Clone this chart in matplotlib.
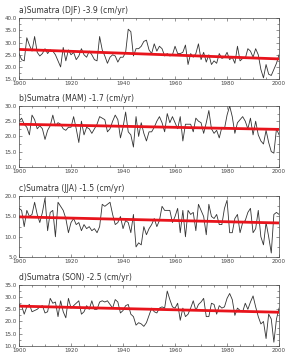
import numpy as np
import matplotlib.pyplot as plt
from matplotlib.ticker import MultipleLocator, FormatStrFormatter

years = np.arange(1900, 2001)

djf = [25.5, 23, 22.5, 32, 29, 26.5, 32.5, 26, 24.5, 25.5,
       27.5, 25.5, 27, 26.5, 25, 22.5, 20, 28, 22.5, 27,
       25, 26, 23, 24.5, 27.5, 25, 24, 26.5, 25, 23,
       22.5, 32.5, 27, 24.5, 21.5, 24, 25, 24.5, 22, 24,
       24, 26, 35.5, 34.5, 24.5, 27.5, 27.5, 28.5, 30.5, 31,
       27, 25.5, 29.5, 26.5, 28.5, 27.5, 24.5, 25.5, 24.5, 25,
       28.5, 25.5, 25.5, 26, 29, 21, 25.5, 24, 25.5, 29.5,
       23, 26, 22, 25, 21, 22.5, 21.5, 25.5, 23.5, 24,
       26, 23, 24, 21.5, 28.5, 22.5, 23.5, 23.5, 27.5, 26.5,
       24, 27.5, 25, 19, 15.5, 21, 17, 16.5, 19, 21.5, 25]

mam = [25, 26, 24, 23, 20.5, 27, 25.5, 22.5, 23.5, 22.5,
       19, 22, 23.5, 27, 23.5, 24.5, 24, 22.5, 22, 23,
       23, 26.5, 22.5, 18, 25, 20.5, 23, 22.5, 21, 22.5,
       24, 26.5, 26, 25.5, 21.5, 22.5, 25, 27, 25.5, 19.5,
       23, 28, 21.5, 20.5, 16.5, 26.5, 20, 24.5, 21, 18.5,
       21.5, 21.5, 23, 25, 26.5, 24.5, 21.5, 27.5, 24.5, 26.5,
       24.5, 22.5, 26.5, 18.5, 24, 24, 24, 21.5, 26, 25,
       24.5, 21, 24.5, 28.5, 22.5, 21, 22, 19.5, 23, 22.5,
       27, 30, 26.5, 21, 24.5, 25.5, 26.5, 25, 22.5, 26,
       20.5, 25, 20.5, 18.5, 17.5, 22, 18, 15, 14.5, 22.5, 20.5]

jja = [17, 16.5, 12.5, 16.5, 15, 15.5, 18.5, 15.5, 13.5, 16,
       19.5, 11.5, 16, 16.5, 10, 18.5, 17.5, 16.5, 14.5, 11,
       13.5, 14.5, 13, 13.5, 11.5, 13, 12, 12.5, 11.5, 12,
       11, 12.5, 18, 17.5, 18, 18.5, 15.5, 13, 13.5, 15,
       12, 14, 13.5, 11, 15.5, 7.5, 8.5, 8, 12.5, 10.5,
       12, 13, 14.5, 12.5, 14, 17.5, 16.5, 16.5, 16.5, 13.5,
       15, 17, 11, 16.5, 10, 16.5, 15.5, 16, 11.5, 18,
       16.5, 15, 10.5, 18, 15, 14.5, 15.5, 13, 13, 17,
       19, 11, 11, 14.5, 15.5, 11, 13.5, 14, 16, 17,
       11, 12, 16.5, 10, 8, 13.5, 10, 6, 15.5, 16, 15.5]

son = [27, 26.5, 23, 26, 27, 24, 24.5, 25, 26, 26.5,
       23.5, 24, 29.5, 27.5, 28, 22, 28.5, 24, 21.5, 29.5,
       25.5, 26.5, 27.5, 28.5, 23, 24, 26.5, 25, 28.5, 25,
       25, 28, 28.5, 28, 28.5, 27, 25.5, 29, 28, 23.5,
       24.5, 26.5, 27, 23, 22, 18.5, 19.5, 19, 18, 19.5,
       22.5, 25.5, 24, 23.5, 25.5, 26, 25.5, 32.5, 29, 26,
       25.5, 27.5, 20.5, 25.5, 22, 23, 25.5, 28.5, 24.5, 27,
       28, 29.5, 22, 22, 27.5, 27, 23, 26.5, 25.5, 26,
       29.5, 31.5, 29, 22.5, 25.5, 24.5, 24, 27.5, 25, 28,
       30.5, 26, 22, 19, 20, 13, 23, 21, 11.5, 21, 25.5]

titles = ["a)Sumatra (DJF) -3.9 (cm/yr)", "b)Sumatra (MAM) -1.7 (cm/yr)",
          "c)Sumatra (JJA) -1.5 (cm/yr)", "d)Sumatra (SON) -2.5 (cm/yr)"]
trend_start = [27.2, 24.0, 14.9, 26.3]
trend_change = [-3.9, -1.7, -1.5, -2.5]   # per century, from the titles
ylims = [(15, 40), (10, 30), (5, 20), (10, 35)]

fig = plt.figure(figsize=(2.88, 3.58), dpi=100)
bottoms = [0.779, 0.534, 0.282, 0.034]

for i, series in enumerate([djf, mam, jja, son]):
    ax = fig.add_axes([0.066, bottoms[i], 0.903, 0.170])
    ax.plot(years, series, color='#333333', lw=0.6)
    trend = [trend_start[i], trend_start[i] + trend_change[i]]
    ax.plot([years[0], years[-1]], trend, color='#e8141c', lw=2.0)
    ax.set_xlim(1900, 2000)
    ax.set_ylim(*ylims[i])
    ax.xaxis.set_major_locator(MultipleLocator(20))
    ax.xaxis.set_minor_locator(MultipleLocator(5))
    ax.yaxis.set_major_locator(MultipleLocator(5))
    ax.yaxis.set_minor_locator(MultipleLocator(2.5))
    ax.yaxis.set_major_formatter(FormatStrFormatter('%.1f'))
    ax.tick_params(which='both', direction='in', top=True, right=True,
                   labelsize=4, pad=1.5, width=0.4, colors='#444444')
    ax.tick_params(which='major', length=2.5)
    ax.tick_params(which='minor', length=1.5)
    for s in ax.spines.values():
        s.set_linewidth(0.5)
        s.set_color('#444444')
    ax.text(0.0, 1.05, titles[i], transform=ax.transAxes, fontsize=5.5,
            color='#333333', ha='left', va='bottom')

fig.savefig('out.png', dpi=100)
